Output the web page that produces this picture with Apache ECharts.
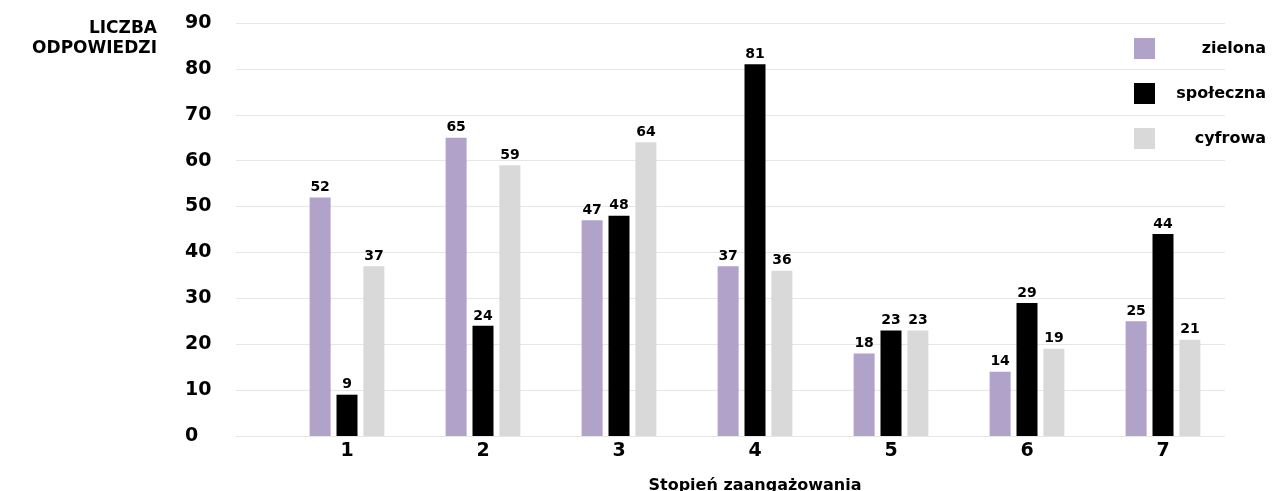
<!DOCTYPE html>
<html><head><meta charset="utf-8">
<script src="https://cdn.jsdelivr.net/npm/echarts@6/dist/echarts.min.js"></script>
<style>html,body{margin:0;padding:0;background:#fff}#c{width:1272px;height:491px}</style>
</head><body><div id="c"></div>
<script>
const categories = ['1','2','3','4','5','6','7'];
const zielona = [52, 65, 47, 37, 18, 14, 25];
const spoleczna = [9, 24, 48, 81, 23, 29, 44];
const cyfrowa = [37, 59, 64, 36, 23, 19, 21];
const seriesNames = ['zielona', 'społeczna', 'cyfrowa'];
const yTicks = {min: 0, max: 90, interval: 10};
const colors = ['#b0a2c9', '#000000', '#d9d9d9'];
const FONT = 'DejaVu Sans';

const chart = echarts.init(document.getElementById('c'), null, {renderer: 'canvas'});
const lbl = {show: true, position: 'top', distance: 3, color: '#000', fontFamily: FONT, fontWeight: 'bold', fontSize: 14};
const mk = (name, data, i) => ({
  name, type: 'bar', data, xAxisIndex: 1, yAxisIndex: 1,
  barWidth: 21, barGap: '28%', itemStyle: {color: colors[i]}, label: lbl
});
chart.setOption({
  animation: false,
  title: {text: 'LICZBA\nODPOWIEDZI', left: 152, top: 14, textAlign: 'right',
    textStyle: {fontFamily: FONT, fontWeight: 'bold', fontSize: 17, lineHeight: 20, color: '#000', align: 'right'}},
  legend: {orient: 'vertical', left: 1129, top: 33, itemWidth: 21, itemHeight: 21, itemGap: 24, icon: 'rect',
    data: seriesNames,
    formatter: n => '{r|' + n + '}',
    textStyle: {fontFamily: FONT, fontWeight: 'bold', fontSize: 16, color: '#000',
      rich: {r: {width: 106, align: 'right', fontFamily: FONT, fontWeight: 'bold', fontSize: 16, color: '#000'}}}},
  grid: [
    {left: 236, right: 47, top: 23, bottom: 55, outerBoundsMode: 'none', containLabel: false},
    {left: 279, right: 41, top: 23, bottom: 55, outerBoundsMode: 'none', containLabel: false}
  ],
  xAxis: [
    {gridIndex: 0, type: 'category', data: categories, show: false},
    {gridIndex: 1, type: 'category', data: categories,
      axisLine: {show: false}, axisTick: {show: false},
      axisLabel: {fontFamily: FONT, fontWeight: 'bold', fontSize: 19, color: '#000', margin: 6},
      name: 'Stopień zaangażowania', nameLocation: 'middle', nameGap: 42,
      nameTextStyle: {fontFamily: FONT, fontWeight: 'bold', fontSize: 16, color: '#000'}}
  ],
  yAxis: [
    {gridIndex: 0, type: 'value', min: yTicks.min, max: yTicks.max, interval: yTicks.interval,
      axisLine: {show: false}, axisTick: {show: false},
      axisLabel: {fontFamily: FONT, fontWeight: 'bold', fontSize: 19, color: '#000', align: 'left', margin: 51},
      splitLine: {lineStyle: {color: '#e6e6e6', width: 1}}},
    {gridIndex: 1, type: 'value', min: yTicks.min, max: yTicks.max, interval: yTicks.interval, show: false, splitLine: {show: false}}
  ],
  series: [mk(seriesNames[0], zielona, 0), mk(seriesNames[1], spoleczna, 1), mk(seriesNames[2], cyfrowa, 2)]
});
</script></body></html>
